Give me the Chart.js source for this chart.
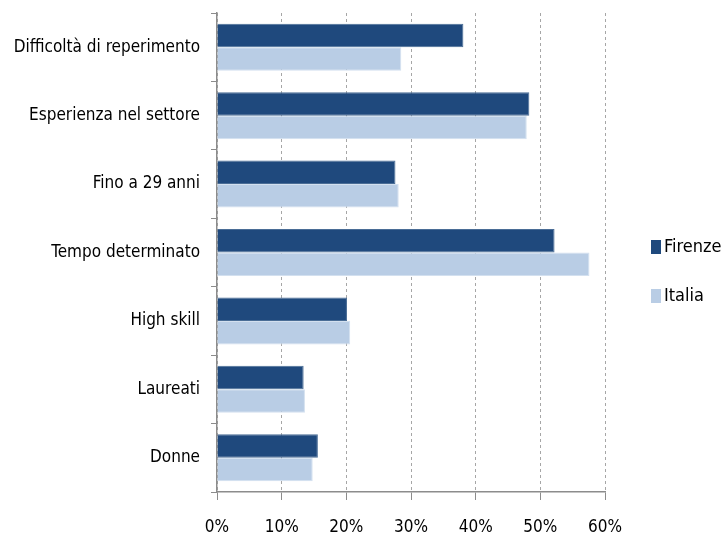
<!DOCTYPE html>
<html>
<head>
<meta charset="utf-8">
<script src="https://cdn.jsdelivr.net/npm/chart.js@4/dist/chart.umd.min.js"></script>
<style>
html,body{margin:0;padding:0;background:#fff;}
#wrap{width:725px;height:539px;position:relative;}
</style>
</head>
<body>
<div id="wrap"><canvas id="c"></canvas></div>
<script>
const categories = ["Difficoltà di reperimento","Esperienza nel settore","Fino a 29 anni","Tempo determinato","High skill","Laureati","Donne"];
const firenze = [38.1, 48.3, 27.6, 52.2, 20.1, 13.4, 15.6];
const italia  = [28.5, 47.9, 28.1, 57.6, 20.6, 13.6, 14.8];
const xTicks = [0, 10, 20, 30, 40, 50, 60];

const FONT = "'Liberation Sans Narrow', 'Arial Narrow', 'DejaVu Sans Condensed', sans-serif";

// Legend drawn at the right, from the datasets' own labels and colours
const sideLegend = {
  id: 'sideLegend',
  afterDraw(chart) {
    const ctx = chart.ctx;
    const rows = [247, 296];
    ctx.save();
    ctx.font = '18px ' + FONT;
    ctx.textBaseline = 'middle';
    ctx.textAlign = 'left';
    chart.data.datasets.forEach((ds, i) => {
      const y = rows[i];
      ctx.fillStyle = ds.backgroundColor;
      ctx.fillRect(651, y - 7, 10, 14);
      ctx.fillStyle = '#000';
      ctx.fillText(ds.label, 664, y);
    });
    ctx.restore();
  }
};

new Chart(document.getElementById('c'), {
  type: 'bar',
  data: {
    labels: categories,
    datasets: [
      {label: 'Firenze', data: firenze, backgroundColor: '#1F497D', borderColor: '#4A6D96', borderWidth: 1, borderSkipped: 'left'},
      {label: 'Italia', data: italia, backgroundColor: '#B9CDE5', borderColor: '#D3E0EF', borderWidth: 1, borderSkipped: 'left'}
    ]
  },
  plugins: [sideLegend],
  options: {
    indexAxis: 'y',
    responsive: true,
    maintainAspectRatio: false,
    animation: false,
    layout: {padding: {top: 13, right: 120, bottom: 0, left: 0}},
    datasets: {bar: {barPercentage: 1.0, categoryPercentage: 0.687}},
    plugins: {
      legend: {display: false},
      tooltip: {enabled: false}
    },
    scales: {
      x: {
        min: 0, max: 60,
        afterBuildTicks: (s) => { s.ticks = xTicks.map(v => ({value: v})); },
        afterFit: (s) => { s.height = 47; s.paddingLeft = 0; s.paddingRight = 0; },
        ticks: {
          callback: (v) => v + '%',
          font: {family: FONT, size: 17},
          color: '#000',
          padding: 17
        },
        grid: {
          color: '#A6A6A6',
          tickColor: '#8C8C8C',
          tickLength: 8,
          lineWidth: 1
        },
        border: {display: true, color: '#8C8C8C', width: 1.5, dash: [3, 3]}
      },
      y: {
        afterFit: (s) => { s.width = 217; s.paddingTop = 0; s.paddingBottom = 0; },
        ticks: {
          font: {family: FONT, size: 17},
          color: '#000',
          padding: 11
        },
        grid: {
          offset: true,
          drawOnChartArea: false,
          drawTicks: true,
          tickLength: 6,
          tickColor: '#8C8C8C'
        },
        border: {display: true, color: '#8C8C8C', width: 1.5}
      }
    }
  }
});
</script>
</body>
</html>
